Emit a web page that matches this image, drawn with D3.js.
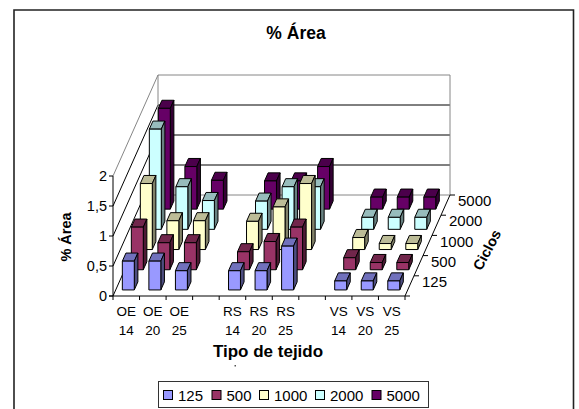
<!DOCTYPE html>
<html>
<head>
<meta charset="utf-8">
<script src="https://cdn.jsdelivr.net/npm/d3@7"></script>
<style>
html,body{margin:0;padding:0;background:#fff;}
svg{display:block;}
text{font-family:"Liberation Sans",Arial,sans-serif;fill:#000;}
</style>
</head>
<body>
<div id="chart"></div>
<script>
// data, blanks are the gaps between fabric groups
var categories = ["OE 14","OE 20","OE 25","gap1","RS 14","RS 20","RS 25","gap2","VS 14","VS 20","VS 25"];
var ciclos = ["125","500","1000","2000","5000"];
var serie125  = [0.48,0.48,0.32,null,0.32,0.32,0.73,null,0.15,0.15,0.15];
var serie500  = [0.71,0.45,0.45,null,0.30,0.47,0.71,null,0.20,0.12,0.12];
var serie1000 = [1.10,0.48,0.48,null,0.47,0.71,1.10,null,0.20,0.10,0.10];
var serie2000 = [1.67,0.71,0.48,null,0.47,0.71,0.71,null,0.20,0.20,0.20];
var serie5000 = [1.68,0.71,0.48,null,0.47,0.47,0.71,null,0.20,0.20,0.20];
var series = [serie125,serie500,serie1000,serie2000,serie5000];
var colors = ["#9999ff","#993366","#ffffcc","#ccffff","#660066"];
var yTicks = [0,0.5,1,1.5,2];

var svg = d3.select("#chart").append("svg").attr("width",579).attr("height",409);

// outer frame, open at the bottom
svg.append("path")
    .attr("d","M14,409V10H573.5V409")
    .style("fill","none").style("stroke","#222").style("stroke-width","1.6px");

// floor corner and oblique offset of the 3d box
var x0=113, y0=296, depthX=45, depthY=-101;

var x = d3.scaleBand().domain(categories).range([x0,405]);
var y = d3.scaleLinear().domain([0,2]).range([0,-120]);
var z = d3.scaleBand().domain(ciclos).range([0,1]);

// oblique projection: xp in pixels, v in data units, d in 0-1 of depth
function px(xp,d){ return xp+d*depthX; }
function py(v,d){ return y0+y(v)+d*depthY; }

var box = svg.append("g").style("fill","none");

function seg(x1,y1,x2,y2,color){
    box.append("line").attr("x1",x1).attr("y1",y1).attr("x2",x2).attr("y2",y2)
        .style("stroke",color).style("stroke-width","1px");
}

// walls
yTicks.forEach(function(t){
    var c = (t==2 || t==0) ? "#868686" : "#000";
    seg(px(x0,1),py(t,1),px(405,1),py(t,1),c);
    seg(px(x0,0),py(t,0),px(x0,1),py(t,1),t==2 ? "#868686" : "#000");
});
seg(px(x0,1),py(0,1),px(x0,1),py(2,1),"#868686");
seg(px(405,1),py(0,1),px(405,1),py(2,1),"#868686");
seg(px(405,0),py(0,0),px(405,1),py(0,1),"#000");

// value axis
seg(x0,py(0,0),x0,py(2,0),"#000");
yTicks.forEach(function(t){
    seg(x0-4,py(t,0),x0,py(t,0),"#000");
    svg.append("text").attr("x",x0-6).attr("y",py(t,0)+5)
        .attr("text-anchor","end").style("font-size","14.5px")
        .text(String(t).replace(".",","));
});

// category axis
seg(x0-4,py(0,0),405,py(0,0),"#000");
categories.concat(["end"]).forEach(function(c,i){
    var xt = x0+i*x.step();
    seg(xt,py(0,0),xt,py(0,0)+4,"#000");
});
categories.forEach(function(c){
    if(c.indexOf("gap")==0) return;
    var parts=c.split(" ");
    var cx=x(c)+x.bandwidth()/2;
    svg.append("text").attr("x",cx).attr("y",316).attr("text-anchor","middle").style("font-size","13.5px").text(parts[0]);
    svg.append("text").attr("x",cx).attr("y",335).attr("text-anchor","middle").style("font-size","13.5px").text(parts[1]);
});

// depth axis
ciclos.concat(["end"]).forEach(function(c,i){
    var d=i/ciclos.length;
    seg(px(405,d),py(0,d),px(405,d)+5,py(0,d),"#000");
});
ciclos.forEach(function(c,i){
    var d=(i+0.5)/ciclos.length;
    svg.append("text").attr("x",px(405,d)+12.5).attr("y",py(0,d)+1)
        .style("font-size","15px").text(c);
});

// bars, back row first so nearer ones cover them
var barW=x.bandwidth()*0.45, barOff=x.bandwidth()*0.25;
var rowD=z.bandwidth()*0.4, rowOff=z.bandwidth()*0.3;

function shade(c,k){ return d3.rgb(c).darker(k).formatHex(); }

d3.range(series.length-1,-1,-1).forEach(function(s){
    var d1=z(ciclos[s])+rowOff, d2=d1+rowD;
    var g=svg.append("g").attr("class","serie").style("stroke","#000").style("stroke-width","1px").style("stroke-linejoin","round");
    var bars=g.selectAll("g").data(series[s].map(function(v,i){return {v:v,c:categories[i]};}).filter(function(b){return b.v!==null;}))
        .enter().append("g");
    bars.append("path") // top
        .style("fill",shade(colors[s],0.85))
        .attr("d",function(b){
            var a=x(b.c)+barOff, e=a+barW;
            return "M"+px(a,d1)+","+py(b.v,d1)+"L"+px(a,d2)+","+py(b.v,d2)+"L"+px(e,d2)+","+py(b.v,d2)+"L"+px(e,d1)+","+py(b.v,d1)+"Z";
        });
    bars.append("path") // side
        .style("fill",shade(colors[s],1.9))
        .attr("d",function(b){
            var e=x(b.c)+barOff+barW;
            return "M"+px(e,d1)+","+py(0,d1)+"L"+px(e,d2)+","+py(0,d2)+"L"+px(e,d2)+","+py(b.v,d2)+"L"+px(e,d1)+","+py(b.v,d1)+"Z";
        });
    bars.append("path") // front
        .style("fill",colors[s])
        .attr("d",function(b){
            var a=x(b.c)+barOff, e=a+barW;
            return "M"+px(a,d1)+","+py(0,d1)+"L"+px(a,d1)+","+py(b.v,d1)+"L"+px(e,d1)+","+py(b.v,d1)+"L"+px(e,d1)+","+py(0,d1)+"Z";
        });
});

// titles
svg.append("text").attr("x",296).attr("y",39).attr("text-anchor","middle")
    .style("font-size","17.5px").style("font-weight","bold").text("% Área");
svg.append("text").attr("transform","translate(71,237) rotate(-90)").attr("text-anchor","middle")
    .style("font-size","14.5px").style("font-weight","bold").text("% Área");
svg.append("text").attr("x",268).attr("y",357).attr("text-anchor","middle")
    .style("font-size","17px").style("font-weight","bold").text("Tipo de tejido");
svg.append("text").attr("transform","translate(487,250) rotate(-62)").attr("text-anchor","middle")
    .attr("dy","5").style("font-size","14.5px").style("font-weight","bold").text("Ciclos");

// small clipped speck below the axis title
svg.append("rect").attr("x",234.5).attr("y",365).attr("width",1.5).attr("height",1.5).style("fill","#555");

// legend
var legendX=[163,211.5,259,315,371.5];
svg.append("rect").attr("x",158.5).attr("y",381.5).attr("width",270).attr("height",26)
    .style("fill","#fff").style("stroke","#333").style("stroke-width","1px");
ciclos.forEach(function(c,i){
    svg.append("rect").attr("x",legendX[i]+0.5).attr("y",390.5).attr("width",9).attr("height",9)
        .style("fill",colors[i]).style("stroke","#000").style("stroke-width","1px");
    svg.append("text").attr("x",legendX[i]+15).attr("y",400.5).style("font-size","15px").text(c);
});
</script>
</body>
</html>
